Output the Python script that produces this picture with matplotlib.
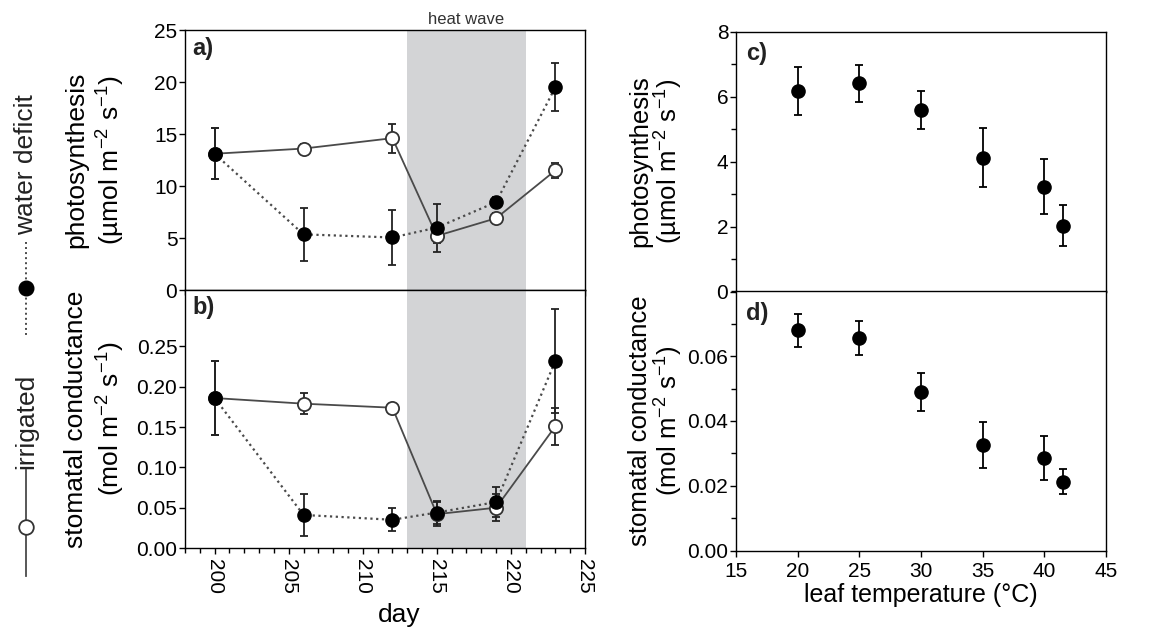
import matplotlib
matplotlib.use("Agg")
import matplotlib.pyplot as plt
from matplotlib.lines import Line2D
from matplotlib.ticker import MultipleLocator, FormatStrFormatter

plt.rcParams['font.family'] = ['Liberation Sans', 'DejaVu Sans']
plt.rcParams['mathtext.fontset'] = 'custom'
plt.rcParams['mathtext.rm'] = 'Liberation Sans'
plt.rcParams['mathtext.it'] = 'Liberation Sans'
plt.rcParams['axes.linewidth'] = 1.0

# ---------------- data ----------------
days = [200, 206, 212, 215, 219, 223]
A_irr = [13.1, 13.6, 14.6, 5.2, 6.9, 11.5]
A_irr_err = [2.45, 0.4, 1.4, 0.7, 0.5, 0.7]
A_def = [13.1, 5.35, 5.05, 6.0, 8.45, 19.5]
A_def_err = [2.45, 2.55, 2.6, 2.3, 0.5, 2.3]

gs_irr = [0.186, 0.179, 0.174, 0.042, 0.050, 0.151]
gs_irr_err = [0.046, 0.013, 0.003, 0.015, 0.017, 0.023]
gs_def = [0.186, 0.041, 0.035, 0.044, 0.057, 0.232]
gs_def_err = [0.046, 0.026, 0.014, 0.014, 0.019, 0.065]

heat_wave = [213, 221]

temp = [20, 25, 30, 35, 40, 41.5]
A_T = [6.17, 6.41, 5.58, 4.12, 3.23, 2.03]
A_T_err = [0.74, 0.57, 0.59, 0.90, 0.85, 0.63]
gs_T = [0.0680, 0.0656, 0.0489, 0.0326, 0.0287, 0.0212]
gs_T_err = [0.0052, 0.0052, 0.0058, 0.0072, 0.0068, 0.0039]

# ---------------- figure ----------------
W, H = 1169, 632
fig = plt.figure(figsize=(W / 100, H / 100), dpi=100)

def rect(x0, y0, x1, y1):
    return [x0 / W, 1 - y1 / H, (x1 - x0) / W, (y1 - y0) / H]

ax_a = fig.add_axes(rect(185, 30, 585, 290))
ax_b = fig.add_axes(rect(185, 290, 585, 548))
ax_c = fig.add_axes(rect(736, 31.5, 1106, 291.5))
ax_d = fig.add_axes(rect(736, 291.5, 1106, 550.5))

TICK_FS = 15
LABEL_FS = 19
line_col = '#4a4a4a'
shade_col = '#d3d4d6'
ms = 9.5

def style(ax):
    ax.tick_params(direction='out', length=4, width=1, labelsize=TICK_FS, pad=1.5, color='black')
    ax.tick_params(which='minor', direction='out', length=3.5, width=1, color='black')

def plot_pair(ax, y_irr, e_irr, y_def, e_def):
    ax.axvspan(heat_wave[0], heat_wave[1], color=shade_col, lw=0, zorder=0)
    ax.errorbar(days, y_irr, yerr=e_irr, fmt='none', ecolor='#222', elinewidth=1.3,
                capsize=3, capthick=1.3, zorder=2)
    ax.errorbar(days, y_def, yerr=e_def, fmt='none', ecolor='#222', elinewidth=1.3,
                capsize=3, capthick=1.3, zorder=2)
    ax.plot(days, y_irr, '-', color=line_col, lw=1.3, zorder=3)
    ax.plot(days, y_def, linestyle=(0, (1, 1.6)), color=line_col, lw=1.6, zorder=3)
    ax.plot(days, y_irr, 'o', ms=ms, mfc='white', mec='#333', mew=1.3, zorder=4)
    ax.plot(days, y_def, 'o', ms=ms, mfc='black', mec='black', zorder=5)
    ax.set_xlim(198, 225)
    ax.xaxis.set_major_locator(MultipleLocator(5))
    ax.xaxis.set_minor_locator(MultipleLocator(1))
    style(ax)

# panel a
plot_pair(ax_a, A_irr, A_irr_err, A_def, A_def_err)
ax_a.set_ylim(0, 25)
ax_a.yaxis.set_major_locator(MultipleLocator(5))
ax_a.tick_params(axis='x', labelbottom=False)
ax_a.set_ylabel('photosynthesis\n(µmol m$^{-2}$ s$^{-1}$)', fontsize=LABEL_FS,
                linespacing=1.25, va='center')
ax_a.yaxis.set_label_coords(-0.224, 0.5)
ax_a.text(0.018, 0.975, 'a)', transform=ax_a.transAxes, fontsize=17,
          fontweight='bold', va='top', ha='left', color='#222')
ax_a.text(sum(heat_wave) / 2, 1.01, 'heat wave', transform=ax_a.get_xaxis_transform(),
          fontsize=12, ha='center', va='bottom', color='#333')

# panel b
plot_pair(ax_b, gs_irr, gs_irr_err, gs_def, gs_def_err)
ax_b.set_ylim(0, 0.32)
ax_b.set_yticks([0, 0.05, 0.10, 0.15, 0.20, 0.25])
ax_b.yaxis.set_major_formatter(FormatStrFormatter('%.2f'))
ax_b.tick_params(axis='x', labelrotation=-90, pad=4)
ax_b.tick_params(top=False)
ax_b.set_xlabel('day', fontsize=LABEL_FS, labelpad=4)
ax_b.xaxis.set_label_coords(0.535, -0.215)
ax_b.set_ylabel('stomatal conductance\n(mol m$^{-2}$ s$^{-1}$)', fontsize=LABEL_FS,
                linespacing=1.25, va='center')
ax_b.yaxis.set_label_coords(-0.224, 0.5)
ax_b.text(0.018, 0.975, 'b)', transform=ax_b.transAxes, fontsize=17,
          fontweight='bold', va='top', ha='left', color='#222')

# panel c
ax_c.errorbar(temp, A_T, yerr=A_T_err, fmt='o', color='black', ms=ms,
              elinewidth=1.3, capsize=3, capthick=1.3)
ax_c.set_xlim(15, 45)
ax_c.set_ylim(0, 8)
ax_c.yaxis.set_major_locator(MultipleLocator(2))
ax_c.yaxis.set_minor_locator(MultipleLocator(1))
ax_c.set_xticks([20, 25, 30, 35, 40])
style(ax_c)
ax_c.tick_params(axis='x', labelbottom=False)
ax_c.set_ylabel('photosynthesis\n(µmol m$^{-2}$ s$^{-1}$)', fontsize=18.5,
                linespacing=1.0, va='center')
ax_c.yaxis.set_label_coords(-0.215, 0.5)
ax_c.text(0.028, 0.96, 'c)', transform=ax_c.transAxes, fontsize=17,
          fontweight='bold', va='top', ha='left', color='#222')

# panel d
ax_d.errorbar(temp, gs_T, yerr=gs_T_err, fmt='o', color='black', ms=ms,
              elinewidth=1.3, capsize=3, capthick=1.3)
ax_d.set_xlim(15, 45)
ax_d.set_ylim(0, 0.08)
ax_d.set_yticks([0, 0.02, 0.04, 0.06])
ax_d.yaxis.set_minor_locator(MultipleLocator(0.01))
ax_d.yaxis.set_major_formatter(FormatStrFormatter('%.2f'))
ax_d.xaxis.set_major_locator(MultipleLocator(5))
style(ax_d)
ax_d.tick_params(axis='x', pad=4)
ax_d.set_xlabel('leaf temperature (°C)', fontsize=18, labelpad=2)
ax_d.set_ylabel('stomatal conductance\n(mol m$^{-2}$ s$^{-1}$)', fontsize=18.5,
                linespacing=1.0, va='center')
ax_d.yaxis.set_label_coords(-0.215, 0.5)
ax_d.text(0.028, 0.96, 'd)', transform=ax_d.transAxes, fontsize=17,
          fontweight='bold', va='top', ha='left', color='#222')

# ---------------- vertical legend on the far left ----------------
lx = 26 / W
def fy(y):
    return 1 - y / H

fig.add_artist(Line2D([lx, lx], [fy(242), fy(337)], transform=fig.transFigure,
                      color=line_col, lw=1.4, linestyle=(0, (1, 1.6))))
fig.add_artist(Line2D([lx], [fy(288)], transform=fig.transFigure, marker='o',
                      ms=10.5, mfc='black', mec='black', linestyle='none'))
fig.text(lx, fy(165), 'water deficit', rotation=90, fontsize=LABEL_FS,
         ha='center', va='center', color='#222')

fig.add_artist(Line2D([lx, lx], [fy(470), fy(576)], transform=fig.transFigure,
                      color=line_col, lw=1.3))
fig.add_artist(Line2D([lx], [fy(527)], transform=fig.transFigure, marker='o',
                      ms=10.5, mfc='white', mec='#333', mew=1.3, linestyle='none'))
fig.text(lx, fy(421), 'irrigated', rotation=90, fontsize=LABEL_FS,
         ha='center', va='center', color='#222')

fig.savefig('out.png', dpi=100)
